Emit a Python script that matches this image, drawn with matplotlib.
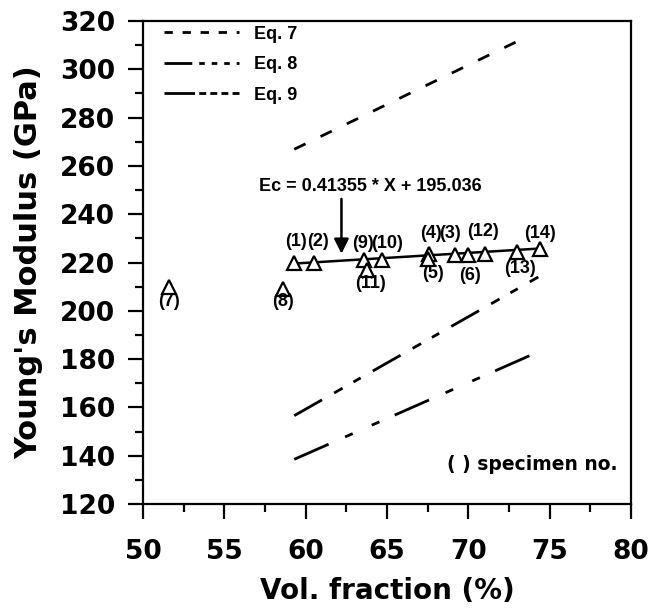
import matplotlib
matplotlib.use('Agg')
import matplotlib.pyplot as plt
from matplotlib.lines import Line2D
from matplotlib.ticker import MultipleLocator

plt.rcParams['font.family'] = ['Liberation Sans', 'DejaVu Sans']
plt.rcParams['lines.scale_dashes'] = False

# measured specimens: vol. fraction (%), Young's modulus (GPa)
spec_no = ['(1)', '(2)', '(3)', '(4)', '(5)', '(6)', '(7)',
           '(8)', '(9)', '(10)', '(11)', '(12)', '(13)', '(14)']
vf = [59.3, 60.5, 69.2, 67.6, 67.5, 70.0, 51.6,
      58.6, 63.6, 64.7, 63.8, 71.0, 73.0, 74.4]
E = [220.0, 220.0, 223.0, 223.5, 221.5, 223.0, 210.0,
     209.0, 221.0, 221.0, 217.0, 223.5, 224.5, 225.5]
# label positions for specimen numbers
lab_x = [59.4, 60.75, 68.9, 67.7, 67.8, 70.1, 51.6,
         58.6, 63.5, 65.0, 64.0, 70.9, 73.2, 74.4]
lab_y = [228.5, 228.5, 232.0, 232.0, 215.6, 214.8, 203.8,
         203.8, 228.0, 228.0, 211.5, 232.8, 217.7, 232.2]

# linear fit  Ec = a * X + b
fit_a = 0.41355
fit_b = 195.036
fit_x = [59.2, 74.5]

# model predictions (end points)
eq7_x = [59.3, 73.6]
eq7_y = [266.9, 313.5]
eq8_x = [59.3, 74.3]
eq8_y = [156.6, 214.0]
eq9_x = [59.3, 74.3]
eq9_y = [138.5, 183.0]

dash7 = (0, (9, 12))
dash8 = (0, (23, 10, 7, 9, 6, 10))
dash9 = (0, (27, 13, 6, 15, 6, 12))

fig = plt.figure(figsize=(6.49, 6.09), dpi=100)
ax = fig.add_axes([0.2203, 0.1724, 0.7520, 0.7931])

ax.plot(eq7_x, eq7_y, color='black', lw=2, linestyle=dash7)
ax.plot(eq8_x, eq8_y, color='black', lw=2, linestyle=dash8)
ax.plot(eq9_x, eq9_y, color='black', lw=2, linestyle=dash9)

ax.plot(fit_x, [fit_a * x + fit_b for x in fit_x], color='black', lw=1.8)
ax.plot(vf, E, linestyle='none', marker='^', markersize=10,
        markerfacecolor='white', markeredgecolor='black', markeredgewidth=1.6)

for t, x, y in zip(spec_no, lab_x, lab_y):
    ax.text(x, y, t, ha='center', va='center', fontsize=13,
            fontweight='bold')

ax.annotate('', xy=(62.2, 222.5), xytext=(62.2, 247.5),
            arrowprops=dict(arrowstyle='-|>', color='black', lw=1.8,
                            mutation_scale=22))
ax.text(63.95, 251.3, 'Ec = 0.41355 * X + 195.036', ha='center', va='center',
        fontsize=13, fontweight='bold')
ax.text(68.7, 136.2, '( ) specimen no.', ha='left', va='center',
        fontsize=13.5, fontweight='bold', family='DejaVu Sans')

# legend handles drawn with the printed legend's dash rhythm
h7 = Line2D([], [], color='black', lw=2, linestyle=(0, (6, 7)))
h8 = Line2D([], [], color='black', lw=2, linestyle=(0, (20, 5, 4, 5, 4, 5, 4, 5)))
h9 = Line2D([], [], color='black', lw=2, linestyle=(0, (22, 3, 5, 3, 5, 3, 5, 3)))
ax.legend([h7, h8, h9], ['Eq. 7', 'Eq. 8', 'Eq. 9'], loc='upper left',
          frameon=False, prop=dict(size=13, weight='bold'),
          handlelength=4.2, labelspacing=0.75,
          borderaxespad=0.2, bbox_to_anchor=(0.02, 1.013))

ax.set_xlim(50, 80)
ax.set_ylim(120, 320)
ax.xaxis.set_major_locator(MultipleLocator(5))
ax.xaxis.set_minor_locator(MultipleLocator(2.5))
ax.yaxis.set_major_locator(MultipleLocator(20))
ax.yaxis.set_minor_locator(MultipleLocator(10))
ax.tick_params(which='major', direction='out', length=11, width=1.6, pad=9)
ax.tick_params(axis='x', which='major', pad=14)
ax.tick_params(which='minor', direction='out', length=5.5, width=1.6)
for lab in ax.get_xticklabels() + ax.get_yticklabels():
    lab.set_fontfamily('DejaVu Sans')
    lab.set_fontweight('bold')
    lab.set_fontsize(19)
for s in ax.spines.values():
    s.set_linewidth(1.6)

ax.set_xlabel('Vol. fraction (%)', fontsize=20, fontweight='bold',
              family='DejaVu Sans', labelpad=9)
ax.set_ylabel("Young's Modulus (GPa)", fontsize=22, fontweight='bold',
              family='DejaVu Sans', labelpad=12)

fig.savefig('out.png', dpi=100)
